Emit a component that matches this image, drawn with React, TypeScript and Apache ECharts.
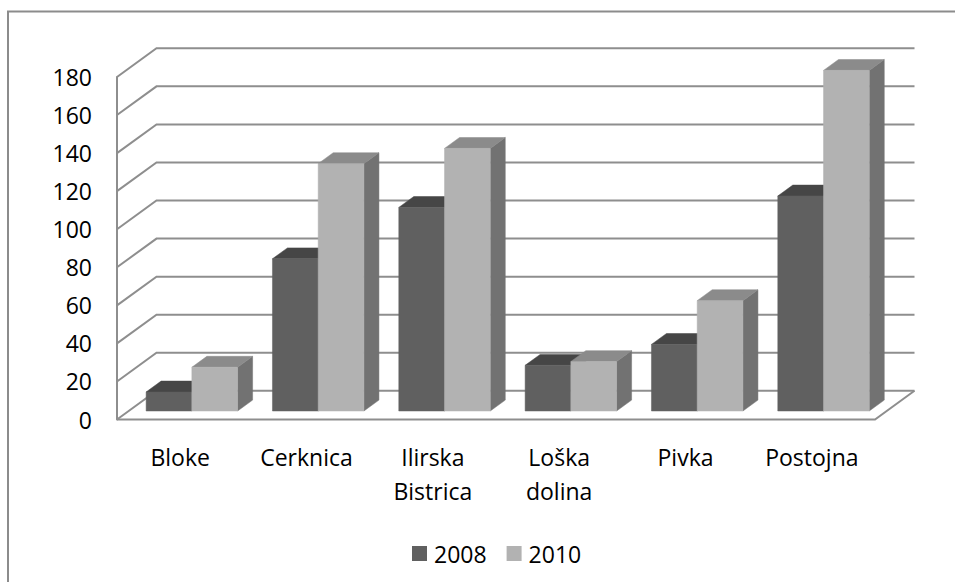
import React, { useEffect, useRef } from "react";
import * as echarts from "echarts";

const categories = ["Bloke", "Cerknica", "Ilirska Bistrica", "Loška dolina", "Pivka", "Postojna"];
const seriesNames = ["2008", "2010"];
const values2008 = [10, 80, 107, 24, 35, 113];
const values2010 = [23, 130, 138, 26, 58, 179];
const yTicks = [0, 20, 40, 60, 80, 100, 120, 140, 160, 180];

// depth geometry (oblique projection)
const DX = 39.5;
const DY = -28.7;
const FRONT_D = 0.296; // bar front plane depth fraction
const BAR_D = 0.38; // bar depth fraction
const BAR_FRAC = 0.362;

const GRID_COLOR = "#8e8e8e";
const FONT = "'Open Sans', sans-serif";

const colors = {
  front: ["#606060", "#b2b2b2"],
  top: ["#464646", "#8b8b8b"],
  side: ["#505050", "#727272"],
};

function makeBarRender(si: number) {
  return (params: any, api: any) => {
    const ci = api.value(0);
    const v = api.value(1);
    const base = api.coord([ci, 0]);
    const topP = api.coord([ci, v]);
    const bw = api.size([1, 0])[0] * BAR_FRAC;
    const fx = DX * FRONT_D;
    const fy = DY * FRONT_D;
    const dx = DX * BAR_D;
    const dy = DY * BAR_D;
    const cx = base[0] + fx;
    const x0 = si === 0 ? cx - bw : cx;
    const x1 = x0 + bw;
    const yb = base[1] + fy;
    const yt = topP[1] + fy;
    return {
      type: "group",
      children: [
        {
          type: "polygon",
          shape: { points: [[x1, yt], [x1 + dx, yt + dy], [x1 + dx, yb + dy], [x1, yb]] },
          style: { fill: colors.side[si], stroke: colors.side[si], lineWidth: 0.5 },
        },
        {
          type: "polygon",
          shape: { points: [[x0, yt], [x1, yt], [x1 + dx, yt + dy], [x0 + dx, yt + dy]] },
          style: { fill: colors.top[si], stroke: colors.top[si], lineWidth: 0.5 },
        },
        {
          type: "rect",
          shape: { x: x0, y: yt, width: bw, height: yb - yt },
          style: { fill: colors.front[si], stroke: colors.front[si], lineWidth: 0.5 },
        },
      ],
    };
  };
}

function gridRender(params: any, api: any) {
  const v = api.value(1);
  const cs = params.coordSys;
  const x0 = cs.x;
  const x1 = cs.x + cs.width;
  const y = api.coord([0, v])[1];
  const children: any[] = [
    {
      type: "polyline",
      shape: { points: [[x0, y], [x0 + DX, y + DY], [x1 + DX, y + DY]] },
      style: { stroke: GRID_COLOR, lineWidth: 2, fill: null },
    },
  ];
  if (v === 0) {
    children.push({
      type: "polyline",
      shape: { points: [[x0, y], [x1, y], [x1 + DX, y + DY]] },
      style: { stroke: GRID_COLOR, lineWidth: 2, fill: null },
    });
  }
  return { type: "group", children };
}

export default function App() {
  const ref = useRef<HTMLDivElement>(null);
  useEffect(() => {
    if (!ref.current) return;
    const chart = echarts.init(ref.current, null, { renderer: "svg" });
    chart.setOption({
      animation: false,
      backgroundColor: "#ffffff",
      textStyle: { fontFamily: FONT },
      graphic: [
        {
          type: "rect",
          shape: { x: 8, y: 11.5, width: 1000, height: 700 },
          style: { fill: null, stroke: "#8c8c8c", lineWidth: 2 },
          z: 100,
        },
      ],
      grid: { left: 117, right: 80, top: 77, bottom: 162.5, containLabel: false },
      legend: {
        data: seriesNames,
        left: 407,
        top: 537,
        icon: "rect",
        itemWidth: 15,
        itemHeight: 15,
        itemGap: 20,
        textStyle: { fontFamily: FONT, fontSize: 23, color: "#000", lineHeight: 23, padding: [0, 0, 0, 2] },
      },
      xAxis: {
        type: "category",
        data: categories,
        axisLine: { show: false },
        axisTick: { show: false },
        splitLine: { show: false },
        axisLabel: {
          interval: 0,
          margin: 20,
          fontFamily: FONT,
          fontSize: 23,
          lineHeight: 34,
          color: "#000",
          formatter: (s: string) => s.replace(" ", "\n"),
        },
      },
      yAxis: {
        type: "value",
        min: 0,
        max: 180,
        interval: 20,
        axisLine: { show: true, lineStyle: { color: GRID_COLOR, width: 2 } },
        axisTick: { show: false },
        splitLine: { show: false },
        axisLabel: { margin: 25, fontFamily: FONT, fontSize: 23, color: "#000" },
      },
      series: [
        {
          type: "custom",
          name: "grid",
          renderItem: gridRender,
          data: yTicks.map((v) => [0, v]),
          silent: true,
          z: 1,
        },
        {
          type: "custom",
          name: seriesNames[0],
          renderItem: makeBarRender(0),
          itemStyle: { color: colors.front[0] },
          data: values2008.map((v, i) => [i, v]),
          z: 2,
        },
        {
          type: "custom",
          name: seriesNames[1],
          renderItem: makeBarRender(1),
          itemStyle: { color: colors.front[1] },
          data: values2010.map((v, i) => [i, v]),
          z: 3,
        },
      ],
    });
    return () => chart.dispose();
  }, []);
  return (
    <div
      ref={ref}
      style={{ position: "absolute", left: 0, top: 0, width: 955, height: 582 }}
    />
  );
}
